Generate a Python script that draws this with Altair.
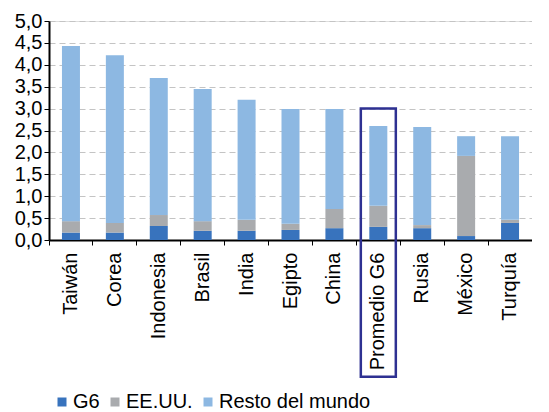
import altair as alt
import pandas as pd

categories = ["Taiwán", "Corea", "Indonesia", "Brasil", "India", "Egipto",
              "China", "Promedio G6", "Rusia", "México", "Turquía"]
g6 = [0.17, 0.17, 0.32, 0.21, 0.21, 0.23, 0.27, 0.30, 0.27, 0.09, 0.39]
eeuu = [0.26, 0.22, 0.25, 0.22, 0.25, 0.14, 0.44, 0.48, 0.07, 1.83, 0.07]
resto = [4.00, 3.83, 3.13, 3.02, 2.74, 2.62, 2.28, 1.82, 2.24, 0.45, 1.91]
series = ["G6", "EE.UU.", "Resto del mundo"]
colors = ["#3873bd", "#a9abae", "#8db8e2"]
y_ticks = [0, 0.5, 1, 1.5, 2, 2.5, 3, 3.5, 4, 4.5, 5]
highlight = "Promedio G6"
highlight_top = 3.0
highlight_bottom = -3.12

rows = []
for i, c in enumerate(categories):
    for k, (s, vals) in enumerate(zip(series, [g6, eeuu, resto])):
        rows.append({"cat": c, "serie": s, "valor": vals[i], "orden": k})
df = pd.DataFrame(rows)

FONT = "Liberation Sans"

x_axis = alt.Axis(labelAngle=-90, labelFontSize=20, labelColor="black",
                  labelFont=FONT, domainColor="black", domainWidth=2,
                  tickColor="black", tickSize=5, bandPosition=0,
                  labelPadding=7, labelBaseline="middle", labelAlign="right",
                  labelOverlap=False, grid=False)
y_axis = alt.Axis(values=y_ticks,
                  labelExpr="replace(format(datum.value, '.1f'), '.', ',')",
                  labelFontSize=20, labelColor="black", labelFont=FONT,
                  labelOverlap=False, labelFlush=False,
                  domainColor="black", domainWidth=2, tickColor="black",
                  tickSize=5, labelPadding=2,
                  grid=True, gridColor="#c4c4c4", gridDash=[6, 4],
                  gridWidth=1.2)
y_scale = alt.Scale(domain=[0, 5], nice=False)

bars = alt.Chart(df).mark_bar(size=18).encode(
    x=alt.X("cat:N", sort=categories, title=None,
            scale=alt.Scale(paddingInner=0, paddingOuter=0), axis=x_axis),
    y=alt.Y("valor:Q", stack="zero", title=None, scale=y_scale, axis=y_axis),
    color=alt.Color("serie:N", sort=series,
                    scale=alt.Scale(domain=series, range=colors),
                    legend=alt.Legend(title=None, orient="none", direction="horizontal",
                                      legendX=3, legendY=371, padding=0,
                                      symbolType="square",
                                      symbolSize=81, symbolStrokeWidth=0,
                                      labelFontSize=20, labelFont=FONT,
                                      labelColor="black", columnPadding=5,
                                      symbolOffset=0, labelOffset=1)),
    order=alt.Order("orden:Q", sort="ascending"),
)

hl_df = pd.DataFrame({"cat": [highlight], "top": [highlight_top],
                      "bottom": [highlight_bottom]})
box = alt.Chart(hl_df).mark_bar(filled=False, stroke="#2e3192", strokeWidth=2.5,
                                size=35, clip=False).encode(
    x=alt.X("cat:N", sort=categories, title=None, axis=x_axis),
    y=alt.Y("top:Q", title=None, scale=y_scale, axis=y_axis),
    y2="bottom:Q",
)

chart = alt.layer(bars, box).properties(
    width=483, height=219,
    autosize=alt.AutoSizeParams(type="none"),
    padding={"left": 41, "top": 13, "right": 0, "bottom": 172},
).configure_view(stroke=None).configure(background="white")

chart.save("out.html", embed_options={"renderer": "svg", "actions": False})
